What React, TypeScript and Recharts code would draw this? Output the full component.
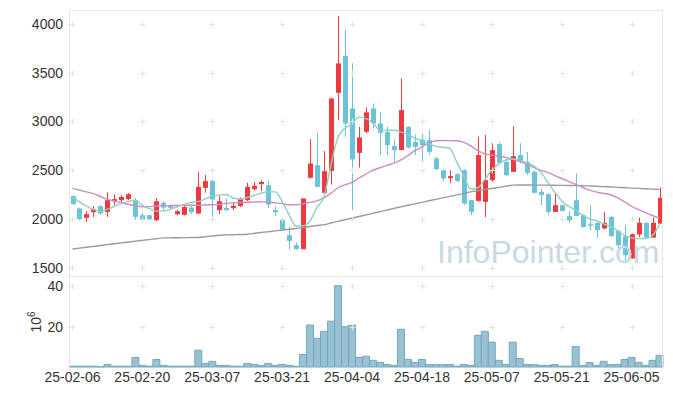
import React from 'react';
import { ComposedChart, Bar, Line, XAxis, YAxis, ReferenceDot } from 'recharts';

const dates = [
  '25-02-06', '25-02-07', '25-02-10', '25-02-11', '25-02-12', '25-02-13', '25-02-14', '25-02-17', '25-02-18', '25-02-19',
  '25-02-20', '25-02-21', '25-02-24', '25-02-25', '25-02-26', '25-02-27', '25-02-28', '25-03-04', '25-03-05', '25-03-06',
  '25-03-07', '25-03-10', '25-03-11', '25-03-12', '25-03-13', '25-03-14', '25-03-17', '25-03-18', '25-03-19', '25-03-20',
  '25-03-21', '25-03-24', '25-03-25', '25-03-26', '25-03-27', '25-03-28', '25-03-31', '25-04-01', '25-04-02', '25-04-03',
  '25-04-04', '25-04-07', '25-04-08', '25-04-09', '25-04-10', '25-04-11', '25-04-14', '25-04-15', '25-04-16', '25-04-17',
  '25-04-18', '25-04-21', '25-04-22', '25-04-23', '25-04-24', '25-04-25', '25-04-28', '25-04-29', '25-04-30', '25-05-02',
  '25-05-07', '25-05-08', '25-05-09', '25-05-12', '25-05-13', '25-05-14', '25-05-15', '25-05-16', '25-05-19', '25-05-20',
  '25-05-21', '25-05-22', '25-05-23', '25-05-26', '25-05-27', '25-05-28', '25-05-29', '25-05-30', '25-06-02', '25-06-04',
  '25-06-05', '25-06-09', '25-06-10', '25-06-11', '25-06-12',
];

const opens = [
  2234, 2107, 2011, 2069, 2131, 2072, 2179, 2192, 2203, 2192,
  2038, 2038, 1987, 2165, 2141, 2049, 2042, 2117, 2056, 2319,
  2388, 2090, 2114, 2110, 2134, 2192, 2305, 2357, 2346, 2090,
  1987, 1833, 1730, 1689, 2422, 2552, 2268, 2493, 3294, 3671,
  3134, 2678, 2894, 3134, 2980, 2894, 2747, 2706, 2945, 2791,
  2816, 2809, 2621, 2500, 2418, 2459, 2500, 2192, 2185, 2175,
  2398, 2767, 2586, 2483, 2655, 2586, 2483, 2278, 2254, 2072,
  2141, 2028, 2192, 2038, 1946, 1959, 1902, 2021, 1877, 1823,
  1594, 1840, 1960, 1809, 1953,
];
const highs = [
  2244, 2115, 2080, 2131, 2141, 2272, 2254, 2244, 2265, 2213,
  2060, 2045, 2213, 2182, 2150, 2090, 2131, 2131, 2483, 2449,
  2405, 2234, 2210, 2170, 2220, 2370, 2380, 2395, 2395, 2131,
  2021, 1918, 1760, 2210, 2819, 2888, 2696, 3237, 4082, 3938,
  3596, 2945, 3145, 3185, 3100, 2945, 2816, 3442, 2952, 2867,
  2877, 2912, 2640, 2500, 2500, 2470, 2511, 2192, 2843, 2860,
  2775, 2781, 2603, 2952, 2775, 2689, 2500, 2313, 2261, 2261,
  2150, 2083, 2467, 2045, 2141, 1970, 2072, 2030, 1885, 1936,
  1850, 2015, 1965, 2015, 2323,
];
const lows = [
  2141, 1990, 1970, 2021, 2042, 2021, 2141, 2172, 2192, 1990,
  1980, 1990, 1977, 2080, 2090, 2038, 2035, 2049, 2049, 2270,
  2021, 2049, 2080, 2090, 2124, 2185, 2290, 2285, 2110, 2028,
  1884, 1686, 1680, 1689, 2415, 2329, 2261, 2354, 3014, 2843,
  2090, 2528, 2877, 2928, 2655, 2655, 2570, 2706, 2723, 2655,
  2590, 2655, 2500, 2380, 2367, 2377, 2141, 2038, 2175, 2021,
  2380, 2572, 2439, 2483, 2569, 2449, 2261, 2141, 2042, 2072,
  2075, 1959, 2031, 1910, 1884, 1809, 1895, 1815, 1696, 1560,
  1594, 1815, 1800, 1805, 1950,
];
const closes = [
  2151, 1997, 2049, 2100, 2056, 2192, 2203, 2226, 2254, 2021,
  1987, 1997, 2182, 2117, 2114, 2080, 2124, 2069, 2329, 2388,
  2200, 2182, 2090, 2134, 2203, 2329, 2340, 2380, 2148, 2069,
  1891, 1775, 1692, 2210, 2569, 2329, 2490, 3237, 3596, 2980,
  2610, 2836, 3093, 2980, 2884, 2757, 2706, 3117, 2733, 2740,
  2757, 2689, 2511, 2415, 2439, 2388, 2159, 2072, 2655, 2398,
  2706, 2576, 2449, 2644, 2586, 2473, 2268, 2244, 2072, 2141,
  2083, 1987, 2031, 1918, 1935, 1884, 1959, 1823, 1730, 1628,
  1843, 1960, 1809, 1960, 2216,
];
// volume, millions of shares
const volumes = [
  0.4, 0.4, 0.4, 0.4, 0.1, 1.2, 0.4, 0.4, 0.4, 4.7,
  0.8, 0.4, 3.7, 0.8, 0.4, 0.4, 0.4, 0.4, 8.3, 1.7,
  2.8, 0.8, 0.8, 0.4, 0.4, 1.7, 1.3, 0.8, 1.7, 0.8,
  1.2, 0.8, 0.4, 6.2, 20.8, 14.2, 17.7, 22.7, 40.3, 20,
  20.7, 4.7, 5.3, 3.3, 2.3, 1.2, 0.8, 18.7, 3.8, 2.3,
  3.7, 1.2, 1.2, 1.2, 1.2, 0.4, 1.2, 0.8, 15.7, 17.7,
  12.3, 3.3, 1.2, 12.3, 4.2, 1.2, 1.2, 0.8, 0.8, 1.2,
  0.4, 0.4, 10.2, 0.7, 2.2, 0.8, 2.8, 1.2, 1.2, 3.7,
  4.7, 2.2, 0.8, 3.3, 5.8,
];
const ma5 = [
  2226, 2175, 2130, 2097, 2080, 2100, 2130, 2160, 2180, 2192,
  2140, 2105, 2080, 2080, 2100, 2125, 2150, 2170, 2178, 2205,
  2235, 2244, 2251, 2215, 2205, 2220, 2240, 2265, 2278, 2278,
  2180, 2040, 1925, 1930, 1980, 2120, 2230, 2560, 2840, 2930,
  2975, 3045, 3030, 2985, 2911, 2911, 2910, 2890, 2865, 2830,
  2800, 2770, 2745, 2735, 2723, 2580, 2440, 2305, 2320, 2405,
  2500, 2565, 2605, 2615, 2603, 2575, 2545, 2480, 2380, 2275,
  2185, 2130, 2090, 2040, 2000, 1980, 1950, 1920, 1880, 1830,
  1805, 1799, 1799, 1830, 1946,
];
const ma20 = [
  2313, 2295, 2278, 2260, 2230, 2200, 2185, 2165, 2150, 2136,
  2125, 2126, 2132, 2134, 2136, 2138, 2140, 2141, 2141, 2143,
  2146, 2148, 2160, 2165, 2168, 2171, 2173, 2175, 2173, 2165,
  2158, 2145, 2145, 2155, 2170, 2185, 2215, 2265, 2320, 2350,
  2375, 2420, 2460, 2500, 2525, 2550, 2572, 2605, 2650, 2700,
  2740, 2780, 2802, 2805, 2803, 2802, 2785, 2750, 2700, 2668,
  2655, 2647, 2630, 2612, 2590, 2560, 2530, 2500, 2478, 2445,
  2415, 2385, 2355, 2325, 2295, 2275, 2262, 2248, 2215, 2175,
  2130, 2095, 2065, 2035, 2005,
];
const ma60 = [
  1692, 1700, 1709, 1718, 1727, 1736, 1745, 1754, 1763, 1772,
  1780, 1788, 1797, 1805, 1806, 1807, 1808, 1809, 1810, 1817,
  1825, 1833, 1836, 1838, 1840, 1843, 1851, 1860, 1868, 1877,
  1886, 1894, 1902, 1912, 1922, 1932, 1941, 1958, 1975, 1992,
  2008, 2025, 2041, 2058, 2075, 2091, 2108, 2124, 2140, 2155,
  2170, 2186, 2201, 2216, 2231, 2247, 2262, 2278, 2290, 2301,
  2312, 2324, 2335, 2347, 2348, 2348, 2347, 2347, 2346, 2345,
  2344, 2343, 2342, 2341, 2338, 2335, 2331, 2328, 2324, 2320,
  2316, 2313, 2310, 2306, 2302,
];

const priceTicks = [1500, 2000, 2500, 3000, 3500, 4000];
const volumeTicks = [20, 40];
const dateTicks = dates.filter((_, i) => i % 10 === 0);

const UP = '#ee3a3f';
const DOWN = '#6ac3d9';
const FONT = '"Liberation Sans", Arial, sans-serif';

const data = dates.map((date, i) => ({
  date,
  open: opens[i],
  high: highs[i],
  low: lows[i],
  close: closes[i],
  range: [lows[i], highs[i]],
  volume: volumes[i],
  ma5: ma5[i],
  ma20: ma20[i],
  ma60: ma60[i],
}));

const Candle = (props: any) => {
  const { x, y, width, height, payload } = props;
  if (x == null || y == null) return null;
  const { open, close, high, low } = payload;
  const color = close >= open ? UP : DOWN;
  const top = Math.min(y, y + height);
  const h = Math.abs(height);
  const ratio = high - low > 0 ? h / (high - low) : 0;
  const yOf = (v: number) => top + (high - v) * ratio;
  const cx = Math.round(x + width / 2) + 0.5;
  const bodyTop = yOf(Math.max(open, close));
  const bodyBot = yOf(Math.min(open, close));
  return (
    <g>
      <line x1={cx} x2={cx} y1={top} y2={top + h} stroke={color} strokeWidth={1} />
      <rect x={cx - 2.5} y={bodyTop} width={5} height={Math.max(1.5, bodyBot - bodyTop)} fill={color} />
    </g>
  );
};

const Plus = (props: any) => {
  const { cx, cy } = props;
  if (cx == null || cy == null) return null;
  const px = Math.round(cx) + 0.5;
  const py = Math.round(cy) + 0.5;
  return <path d={`M${px - 3},${py}H${px + 3}M${px},${py - 3}V${py + 3}`} stroke="#e2e2e2" strokeWidth={1} fill="none" />;
};

const tickStyle = { fill: '#333', fontSize: 14, fontFamily: FONT };

export default function App() {
  return (
    <div style={{ position: 'absolute', left: 0, top: 0, width: 673, height: 396, background: '#fff', fontFamily: FONT }}>
      <ComposedChart width={673} height={278} data={data} margin={{ top: 10, right: 10, bottom: 1, left: 0 }}>
        <XAxis dataKey="date" hide />
        <YAxis
          width={69}
          domain={[1404, 4144]}
          ticks={priceTicks}
          axisLine={false}
          tickLine={false}
          tickSize={6}
          tickMargin={0}
          tick={tickStyle}
        />
        {dateTicks.map((d) =>
          priceTicks.map((v) => (
            <ReferenceDot key={`${d}-${v}`} x={d} y={v} r={0} shape={Plus} />
          ))
        )}
        <Line dataKey="ma60" type="monotone" stroke="#9a9a9a" strokeWidth={1.4} dot={false} isAnimationActive={false} />
        <Line dataKey="ma20" type="monotone" stroke="#cc8cc6" strokeWidth={1.4} dot={false} isAnimationActive={false} />
        <Line dataKey="ma5" type="monotone" stroke="#8fd0bf" strokeWidth={1.4} dot={false} isAnimationActive={false} />
        <Bar dataKey="range" barSize={5} shape={Candle} isAnimationActive={false} />
      </ComposedChart>
      <div style={{ position: 'absolute', left: 0, top: 277 }}>
        <ComposedChart width={673} height={119} data={data} margin={{ top: 0, right: 10, bottom: 0, left: 0 }} barCategoryGap={0}>
          <XAxis
            dataKey="date"
            ticks={dateTicks}
            height={29}
            axisLine={false}
            tickLine={false}
            tickSize={5}
            tickMargin={0}
            tick={tickStyle}
            interval={0}
          />
          <YAxis
            width={69}
            domain={[0, 44.6]}
            ticks={volumeTicks}
            axisLine={false}
            tickLine={false}
            tickSize={6}
            tickMargin={0}
            tick={tickStyle}
          />
          {dateTicks.map((d) =>
            volumeTicks.map((v) => (
              <ReferenceDot key={`${d}-${v}`} x={d} y={v} r={0} shape={Plus} />
            ))
          )}
          <Bar dataKey="volume" fill="#98c2d3" stroke="#74a6bb" strokeWidth={1} isAnimationActive={false} />
        </ComposedChart>
      </div>
      {/* plot frames */}
      <div style={{ position: 'absolute', left: 69, top: 10, width: 594, height: 267, border: '1px solid #e6e6e6', boxSizing: 'border-box', pointerEvents: 'none' }} />
      <div style={{ position: 'absolute', left: 69, top: 277, width: 594, height: 90, borderLeft: '1px solid #e6e6e6', borderRight: '1px solid #e6e6e6', boxSizing: 'border-box', pointerEvents: 'none' }} />
      <div style={{ position: 'absolute', left: 24, top: 312, width: 20, height: 20, color: '#333', fontSize: 14, lineHeight: '20px', transform: 'rotate(-90deg)', whiteSpace: 'nowrap', display: 'flex', alignItems: 'center', justifyContent: 'center' }}>
        <span>10<sup style={{ fontSize: 10, verticalAlign: 6 }}>6</sup></span>
      </div>
      <div style={{ position: 'absolute', left: 437, top: 232, fontSize: 32, color: '#c6d9e5', fontFamily: FONT, lineHeight: '40px', pointerEvents: 'none' }}>
        InfoPointer.com
      </div>
    </div>
  );
}
